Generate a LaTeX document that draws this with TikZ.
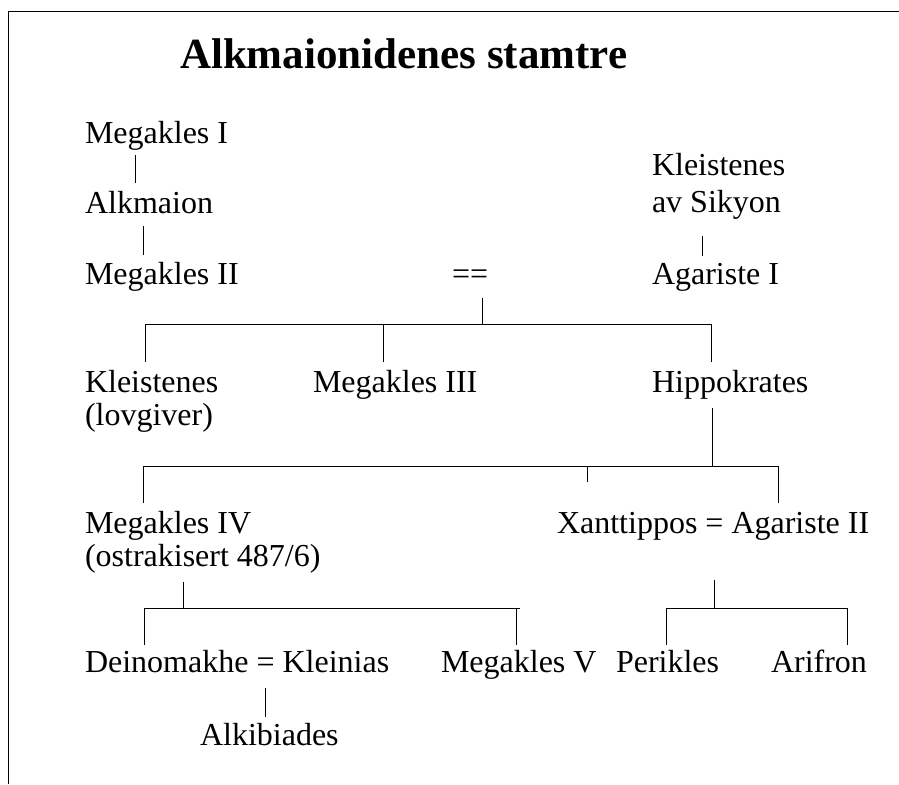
\documentclass[tikz,border=0pt]{standalone}
\usepackage{fontspec}
\setmainfont{Liberation Serif}
\begin{document}
\begin{tikzpicture}[x=1pt,y=-1pt,
  lbl/.style={anchor=base west, inner sep=0pt, outer sep=0pt, font=\fontsize{32}{36}\selectfont},
  ttl/.style={anchor=base west, inner sep=0pt, outer sep=0pt, font=\fontsize{43}{50}\selectfont\bfseries},
  tree/.style={line width=1pt},
  framel/.style={line width=1.8pt}]
\useasboundingbox (0,0) rectangle (899,784);
% frame
\coordinate (fTR) at (899,11.5);
\coordinate (fTL) at (8.5,11.5);
\coordinate (fBL) at (8.5,784);
\draw[framel] (fTR) -- (fTL) -- (fBL);
% texts
\node[ttl] (title) at (180,68) {Alkmaionidenes stamtre};
\node[lbl] (m1) at (85,143) {Megakles I};
\node[lbl] (alk) at (85,213) {Alkmaion};
\node[lbl] (m2) at (85,284) {Megakles II};
\node[lbl] (eq) at (452,284) {==};
\node[lbl] (kls) at (652,175) {Kleistenes};
\node[lbl] (kls2) at (652,212) {av Sikyon};
\node[lbl] (ag1) at (652,284) {Agariste I};
\node[lbl] (kl) at (85,392) {Kleistenes};
\node[lbl] (kl2) at (85,425) {(lovgiver)};
\node[lbl] (m3) at (313,392) {Megakles III};
\node[lbl] (hip) at (652,392) {Hippokrates};
\node[lbl] (m4) at (85,533) {Megakles IV};
\node[lbl] (m4b) at (85,566) {(ostrakisert 487/6)};
\node[lbl] (xan) at (557,533) {Xanttippos = Agariste II};
\node[lbl] (dei) at (85,672) {Deinomakhe = Kleinias};
\node[lbl] (m5) at (441,672) {Megakles V};
\node[lbl] (per) at (616,672) {Perikles};
\node[lbl] (ari) at (771,672) {Arifron};
\node[lbl] (alkib) at (200,745) {Alkibiades};
% connector coordinates
\coordinate (a1) at (135,155); \coordinate (a2) at (135,183);
\coordinate (b1) at (143,226); \coordinate (b2) at (143,255);
\coordinate (c1) at (702,236); \coordinate (c2) at (702,256);
\coordinate (e1) at (482,298); \coordinate (e2) at (482,324);
\coordinate (h1l) at (145,324); \coordinate (h1r) at (711,324);
\coordinate (t1a) at (145,362); \coordinate (t1m) at (383,324); \coordinate (t1b) at (383,362); \coordinate (t1c) at (711,362);
\coordinate (p1) at (712,408); \coordinate (p2) at (712,466);
\coordinate (h2l) at (143,466); \coordinate (h2r) at (778,466);
\coordinate (t2a) at (143,503); \coordinate (t2m) at (587,466); \coordinate (t2b) at (587,482); \coordinate (t2c) at (778,503);
\coordinate (q1) at (183,582); \coordinate (q2) at (183,608);
\coordinate (h3l) at (144,608); \coordinate (h3r) at (520,608);
\coordinate (t3a) at (144,645); \coordinate (t3m) at (516,608); \coordinate (t3b) at (516,645);
\coordinate (r1) at (714,580); \coordinate (r2) at (714,608);
\coordinate (h4l) at (666,608); \coordinate (h4r) at (847,608);
\coordinate (t4a) at (666,645); \coordinate (t4b) at (847,645);
\coordinate (s1) at (265,688); \coordinate (s2) at (265,717);
% connectors
\draw[tree] (a1) -- (a2);
\draw[tree] (b1) -- (b2);
\draw[tree] (c1) -- (c2);
\draw[tree] (e1) -- (e2);
\draw[tree] (h1l) -- (h1r);
\draw[tree] (h1l) -- (t1a);
\draw[tree] (t1m) -- (t1b);
\draw[tree] (h1r) -- (t1c);
\draw[tree] (p1) -- (p2);
\draw[tree] (h2l) -- (h2r);
\draw[tree] (h2l) -- (t2a);
\draw[tree] (t2m) -- (t2b);
\draw[tree] (h2r) -- (t2c);
\draw[tree] (q1) -- (q2);
\draw[tree] (h3l) -- (h3r);
\draw[tree] (h3l) -- (t3a);
\draw[tree] (t3m) -- (t3b);
\draw[tree] (r1) -- (r2);
\draw[tree] (h4l) -- (h4r);
\draw[tree] (h4l) -- (t4a);
\draw[tree] (h4r) -- (t4b);
\draw[tree] (s1) -- (s2);
\end{tikzpicture}
\end{document}
